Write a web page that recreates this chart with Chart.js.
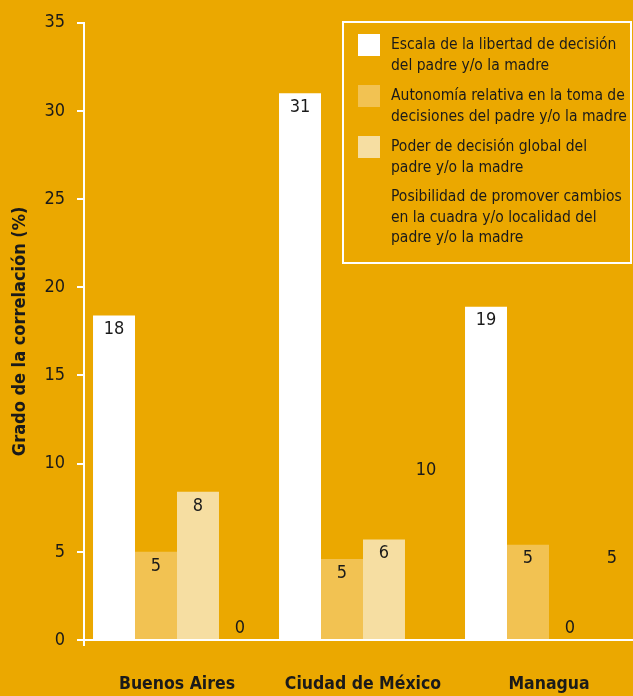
<!DOCTYPE html>
<html>
<head>
<meta charset="utf-8">
<script src="https://cdn.jsdelivr.net/npm/chart.js@4/dist/chart.umd.min.js"></script>
<style>
html,body{margin:0;padding:0;background:#EBA800;overflow:hidden;}
#wrap{width:642px;height:696px;position:relative;}
</style>
</head>
<body>
<div id="wrap"><canvas id="c" width="642" height="696"></canvas></div>
<script>
const categories = ['Buenos Aires', 'Ciudad de México', 'Managua'];
const seriesNames = [
  ['Escala de la libertad de decisión', 'del padre y/o la madre'],
  ['Autonomía relativa en la toma de', 'decisiones del padre y/o la madre'],
  ['Poder de decisión global del', 'padre y/o la madre'],
  ['Posibilidad de promover cambios', 'en la cuadra y/o localidad del', 'padre y/o la madre']
];
const libertad = [18.4, 31.0, 18.9];
const autonomia = [5.0, 4.6, 5.4];
const poder = [8.4, 5.7, 0];
const posibilidad = [0, 10.4, 5.4];
const yTicks = [0, 5, 10, 15, 20, 25, 30, 35];
const yTitle = 'Grado de la correlación (%)';

const BG = '#EBA800';
const colors = ['#FFFFFF', '#F2C252', '#F6DEA2', BG];
const FONT = "'DejaVu Sans Condensed', 'DejaVu Sans', sans-serif";
const TXT = '#1a1a1a';

const valueLabels = {
  id: 'valueLabels',
  afterDatasetsDraw(chart) {
    const ctx = chart.ctx;
    ctx.save();
    ctx.font = '18px ' + FONT;
    ctx.fillStyle = TXT;
    ctx.textAlign = 'center';
    ctx.textBaseline = 'middle';
    chart.data.datasets.forEach((ds, i) => {
      const meta = chart.getDatasetMeta(i);
      meta.data.forEach((el, j) => {
        const y = Math.min(el.y + 14, el.base - 12);
        ctx.fillText(String(Math.round(ds.data[j])), el.x, y);
      });
    });
    ctx.restore();
  }
};

const axisExtend = {
  id: 'axisExtend',
  afterDraw(chart) {
    const ctx = chart.ctx, a = chart.chartArea;
    ctx.save();
    ctx.strokeStyle = '#FFFFFF';
    ctx.lineWidth = 2;
    ctx.beginPath();
    ctx.moveTo(a.left, a.bottom);
    ctx.lineTo(a.left, a.bottom + 6);
    ctx.stroke();
    ctx.restore();
  }
};

const boxLegend = {
  id: 'boxLegend',
  afterDraw(chart) {
    const ctx = chart.ctx;
    ctx.save();
    const left = 343, top = 22, right = 631, bottom = 263;
    ctx.strokeStyle = '#FFFFFF';
    ctx.lineWidth = 2;
    ctx.strokeRect(left, top, right - left, bottom - top);
    ctx.font = '15.5px ' + FONT;
    ctx.fillStyle = TXT;
    ctx.textBaseline = 'middle';
    ctx.textAlign = 'left';
    const starts = [45, 96, 147, 197];
    chart.data.datasets.forEach((ds, i) => {
      const y0 = starts[i];
      if (ds.backgroundColor !== BG) {
        ctx.fillStyle = ds.backgroundColor;
        ctx.fillRect(358, y0 - 11, 22, 22);
      }
      ctx.fillStyle = TXT;
      seriesNames[i].forEach((line, k) => {
        ctx.fillText(line, 391, y0 + k * 20.5);
      });
    });
    ctx.restore();
  }
};

new Chart(document.getElementById('c'), {
  type: 'bar',
  data: {
    labels: categories,
    datasets: [libertad, autonomia, poder, posibilidad].map((d, i) => ({
      label: seriesNames[i].join(' '),
      data: d,
      backgroundColor: colors[i],
      borderWidth: 0,
      barPercentage: 1.0,
      categoryPercentage: 0.903
    }))
  },
  options: {
    responsive: false,
    animation: false,
    layout: { padding: { top: 21, right: 0, bottom: 2, left: 0 } },
    plugins: { legend: { display: false }, tooltip: { enabled: false } },
    scales: {
      x: {
        afterFit(scale) { scale.height = 54; },
        grid: { display: false, drawTicks: false },
        border: { display: true, color: '#FFFFFF', width: 2 },
        ticks: { color: TXT, font: { family: FONT, size: 17.5, weight: 'bold' }, padding: 34, maxRotation: 0, autoSkip: false }
      },
      y: {
        min: 0, max: 35,
        afterFit(scale) { scale.width = 84; },
        afterBuildTicks(scale) { scale.ticks = yTicks.map(v => ({ value: v })); },
        grid: { display: true, drawOnChartArea: false, drawTicks: true, tickLength: 7, color: '#FFFFFF', lineWidth: 2 },
        border: { display: true, color: '#FFFFFF', width: 2 },
        ticks: { color: TXT, font: { family: FONT, size: 18 }, padding: 12 },
        title: { display: true, text: yTitle, color: TXT, font: { family: FONT, size: 18, weight: 'bold' }, padding: { top: 10, bottom: 0 } }
      }
    }
  },
  plugins: [valueLabels, axisExtend, boxLegend]
});
</script>
</body>
</html>
